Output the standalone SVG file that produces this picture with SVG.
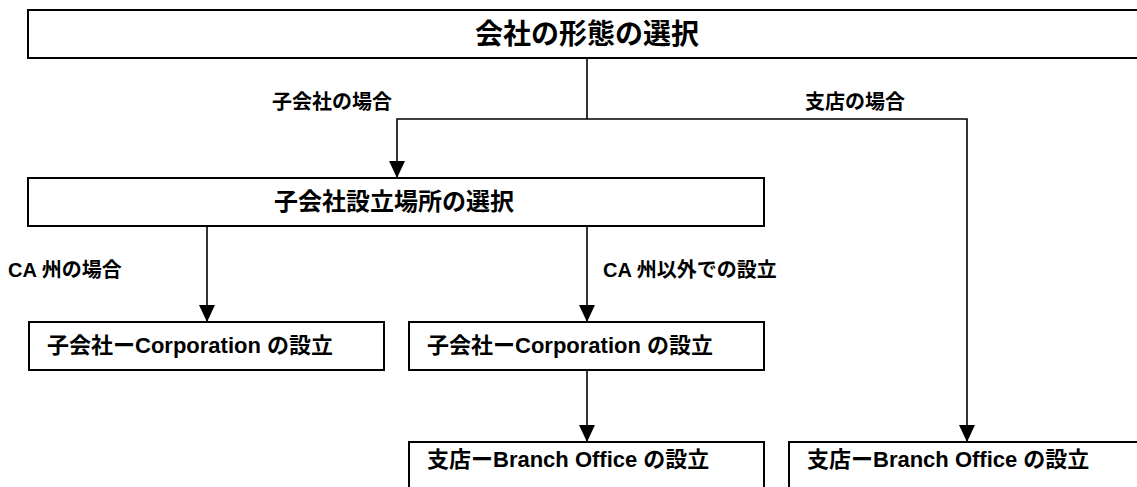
<svg xmlns="http://www.w3.org/2000/svg" width="1137" height="487" viewBox="0 0 1137 487">
<style>
.box{fill:#fff;stroke:#000;stroke-width:2}
.t{font-family:"Liberation Sans","Noto Sans CJK JP",sans-serif;font-weight:bold;fill:#000}
.c{fill:none;stroke:#000;stroke-width:1.6}
</style>
<defs>
<marker id="arr" viewBox="0 0 17 16" refX="17" refY="8" markerWidth="17" markerHeight="16" markerUnits="userSpaceOnUse" orient="auto">
<path d="M0,0 L17,8 L0,16 z" fill="#000"/>
</marker>
</defs>
<rect width="1137" height="487" fill="#fff"/>
<g id="connectors">
<path class="c" d="M587,58 V119"/>
<path class="c" d="M587,119 H397 V178" marker-end="url(#arr)"/>
<path class="c" d="M587,119 H967 V442" marker-end="url(#arr)"/>
<path class="c" d="M207,226 V322" marker-end="url(#arr)"/>
<path class="c" d="M587,226 V322" marker-end="url(#arr)"/>
<path class="c" d="M587,370 V442" marker-end="url(#arr)"/>
</g>
<g id="labels">
<text class="t" x="272" y="109" font-size="20">子会社の場合</text>
<text class="t" x="805" y="109" font-size="20">支店の場合</text>
<text class="t" x="8" y="277" font-size="20">CA 州の場合</text>
<text class="t" x="603" y="277" font-size="20">CA 州以外での設立</text>
</g>
<g id="node-top">
<rect class="box" x="28" y="10" width="1120" height="48"/>
<text class="t" x="587" y="44" font-size="28" text-anchor="middle">会社の形態の選択</text>
</g>
<g id="node-location">
<rect class="box" x="28" y="178" width="736" height="48"/>
<text class="t" x="394" y="210" font-size="24" text-anchor="middle">子会社設立場所の選択</text>
</g>
<g id="node-corp-ca">
<rect class="box" x="29" y="322" width="355" height="48"/>
<text class="t" x="47" y="353" font-size="22">子会社ーCorporation の設立</text>
</g>
<g id="node-corp-other">
<rect class="box" x="409" y="322" width="355" height="48"/>
<text class="t" x="427" y="353" font-size="22">子会社ーCorporation の設立</text>
</g>
<g id="node-branch-1">
<rect class="box" x="409" y="442" width="355" height="60"/>
<text class="t" x="427" y="467" font-size="22">支店ーBranch Office の設立</text>
</g>
<g id="node-branch-2">
<rect class="box" x="789" y="442" width="360" height="60"/>
<text class="t" x="807" y="467" font-size="22">支店ーBranch Office の設立</text>
</g>
</svg>
